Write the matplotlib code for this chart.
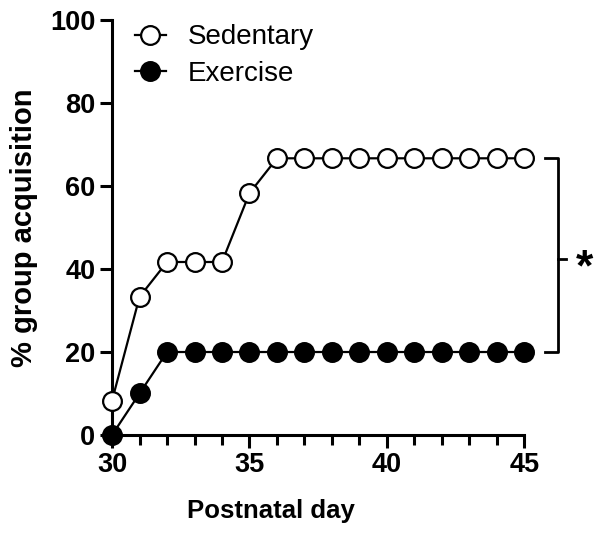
import matplotlib.pyplot as plt

plt.rcParams["font.family"] = ["Liberation Sans", "DejaVu Sans"]

days = list(range(30, 46))
sedentary = [8.3, 33.3, 41.7, 41.7, 41.7, 58.3, 66.7, 66.7, 66.7, 66.7,
             66.7, 66.7, 66.7, 66.7, 66.7, 66.7]
exercise = [0, 10, 20, 20, 20, 20, 20, 20, 20, 20, 20, 20, 20, 20, 20, 20]

fig = plt.figure(figsize=(6.09, 5.38), dpi=100)
ax = fig.add_axes([0.184, 0.1915, 0.677, 0.771])

ax.plot(days, exercise, "-o", color="black", mfc="black", mec="black",
        ms=13.5, lw=1.6, mew=1.6, label="Exercise", clip_on=False, zorder=3)
ax.plot(days, sedentary, "-o", color="black", mfc="white", mec="black",
        ms=13.5, lw=1.6, mew=1.6, label="Sedentary", clip_on=False, zorder=4)

ax.set_xlim(30, 45)
ax.set_ylim(0, 100)
ax.set_xticks([30, 35, 40, 45])
ax.set_xticks(days, minor=True)
ax.set_yticks([0, 20, 40, 60, 80, 100])

for s in ["top", "right"]:
    ax.spines[s].set_visible(False)
for s in ["left", "bottom"]:
    ax.spines[s].set_linewidth(2.2)

ax.tick_params(axis="both", which="major", width=2.2, length=9,
               labelsize=19.5, pad=3)
ax.tick_params(axis="x", which="minor", width=2.2, length=7)
for lab in ax.get_xticklabels() + ax.get_yticklabels():
    lab.set_fontweight("bold")

ax.set_xlabel("Postnatal day", fontsize=18.5, fontweight="bold")
ax.xaxis.set_label_coords(0.386, -0.183)
ax.xaxis.label.set_va("center")
ax.set_ylabel("% group acquisition", fontsize=21, fontweight="bold")
ax.yaxis.set_label_coords(-0.2136, 0.5)
ax.yaxis.label.set_va("center")

handles, labels = ax.get_legend_handles_labels()
ax.legend(handles[::-1], labels[::-1], loc="upper left", frameon=False,
          fontsize=20, bbox_to_anchor=(0.056, 0.99), handlelength=1.1,
          handletextpad=0.8, labelspacing=0.38, borderaxespad=0, borderpad=0)

# significance bracket
top, bot = sedentary[-1], exercise[-1]
xb, xl, xt = 46.24, 45.76, 46.53
ax.plot([xl, xb, xb, xl], [top, top, bot, bot], color="black", lw=2, clip_on=False)
mid = (top + bot) / 2 - 1
ax.plot([xb, xt], [mid, mid], color="black", lw=2, clip_on=False)
ax.text(47.2, mid - 2.2, "*", fontsize=32, fontweight="bold", ha="center",
        va="center", clip_on=False)

fig.savefig("out.png", dpi=100)
